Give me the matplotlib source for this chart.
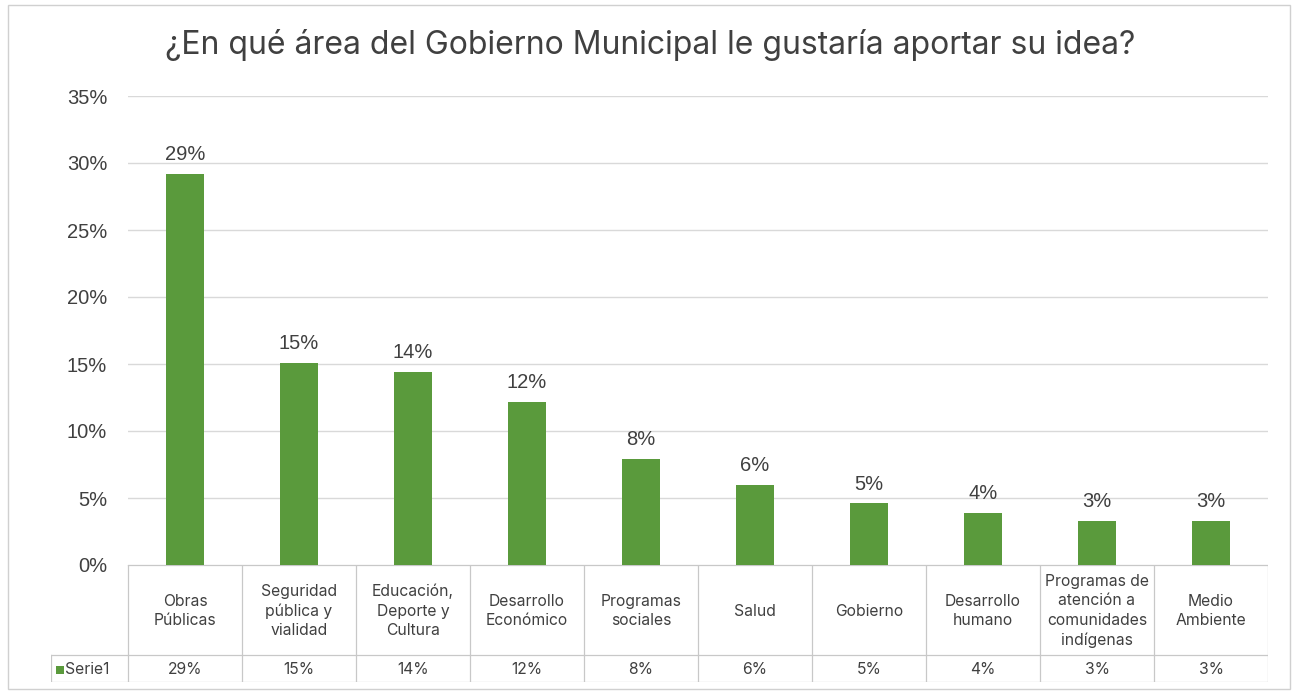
import matplotlib
matplotlib.use("Agg")
import matplotlib.pyplot as plt
from matplotlib.patches import Rectangle

# Survey data
categories = [
    "Obras\nPúblicas",
    "Seguridad\npública y\nvialidad",
    "Educación,\nDeporte y\nCultura",
    "Desarrollo\nEconómico",
    "Programas\nsociales",
    "Salud",
    "Gobierno",
    "Desarrollo\nhumano",
    "Programas de\natención a\ncomunidades\nindígenas",
    "Medio\nAmbiente",
]
values = [0.292, 0.151, 0.144, 0.122, 0.079, 0.060, 0.046, 0.039, 0.033, 0.033]
series_name = "Serie1"
y_ticks = [0, 0.05, 0.10, 0.15, 0.20, 0.25, 0.30, 0.35]
title = "¿En qué área del Gobierno Municipal le gustaría aportar su idea?"

GREEN = "#5A9A3C"
TEXT = "#404040"
GRID = "#D9D9D9"
BORDER = "#C8C8C8"

W, H = 1295, 692
fig = plt.figure(figsize=(W / 100, H / 100), dpi=100)
fig.patch.set_facecolor("white")


def fx(px):
    return px / W


def fy(py):
    return 1 - py / H


# outer chart frame
fig.add_artist(Rectangle((fx(8), fy(689)), fx(1290) - fx(8), fy(5) - fy(689),
                         transform=fig.transFigure, fill=False,
                         edgecolor="#D0D0D0", linewidth=1.0))

num_font = ["Liberation Sans", "DejaVu Sans"]
tfont = ["Inter", "DejaVu Sans"]

# plot area
left, right, top, bottom = 128, 1268, 96, 565
ax = fig.add_axes([fx(left), fy(bottom), fx(right) - fx(left), fy(top) - fy(bottom)])
x = list(range(len(categories)))
ax.bar(x, values, width=0.33, color=GREEN, zorder=3)
ax.set_xlim(-0.5, len(categories) - 0.5)
ax.set_ylim(0, 0.35)
ax.set_yticks(y_ticks)
ax.set_yticklabels([f"{t:.0%}" for t in y_ticks], fontsize=14.5, color=TEXT,
                   family=num_font)
ax.tick_params(axis="y", length=0, pad=15)
ax.tick_params(axis="x", length=0, labelbottom=False)
ax.yaxis.grid(True, color=GRID, linewidth=1.0, zorder=0)
for s in ["top", "right", "left", "bottom"]:
    ax.spines[s].set_visible(False)
ax.set_facecolor("none")

for xi, v in zip(x, values):
    ax.annotate(f"{v:.0%}", (xi, v), xytext=(0, 7), textcoords="offset points",
                ha="center", va="bottom", fontsize=14.5, color=TEXT,
                family=num_font)

# data table below the axis
tab_left, tab_top, tab_mid, tab_bot = 51, 565, 655, 682
col_w = (right - left) / len(categories)
tx = fig.add_axes([fx(tab_left), fy(tab_bot), fx(right) - fx(tab_left),
                   fy(tab_top) - fy(tab_bot)])
x0 = -0.5 - (left - tab_left) / col_w
tx.set_xlim(x0, len(categories) - 0.5)
tx.set_ylim(tab_bot, tab_top)
tx.axis("off")

lw = 0.9
# horizontal rules
tx.plot([-0.5, len(categories) - 0.5], [tab_top, tab_top], color=BORDER, lw=lw)
tx.plot([x0, len(categories) - 0.5], [tab_mid, tab_mid], color=BORDER, lw=lw)
tx.plot([x0, len(categories) - 0.5], [tab_bot, tab_bot], color=BORDER, lw=lw)
# vertical rules
for i in range(len(categories) + 1):
    tx.plot([i - 0.5, i - 0.5], [tab_top, tab_bot], color=BORDER, lw=lw)
tx.plot([x0, x0], [tab_mid, tab_bot], color=BORDER, lw=lw)

for xi, (c, v) in zip(x, zip(categories, values)):
    tx.text(xi, (tab_top + tab_mid) / 2 + 1, c, ha="center", va="center",
            fontsize=11.3, color=TEXT, family=tfont, linespacing=1.38)
    tx.text(xi, (tab_mid + tab_bot) / 2 + 1, f"{v:.0%}", ha="center", va="center",
            fontsize=11.3, color=TEXT, family=tfont)

# legend key for the series row
key_px = 8
tx.add_patch(Rectangle((x0 + 5 / col_w, (tab_mid + tab_bot) / 2 + 5), key_px / col_w, -key_px,
                       facecolor=GREEN, edgecolor="none"))
tx.text(x0 + 14 / col_w, (tab_mid + tab_bot) / 2 + 1, series_name, ha="left", va="center",
        fontsize=11.3, color=TEXT, family=tfont)

fig.text(fx(650), fy(45), title, ha="center", va="center", fontsize=23,
         color=TEXT, family=tfont)

fig.savefig("out.png", dpi=100, facecolor="white")
